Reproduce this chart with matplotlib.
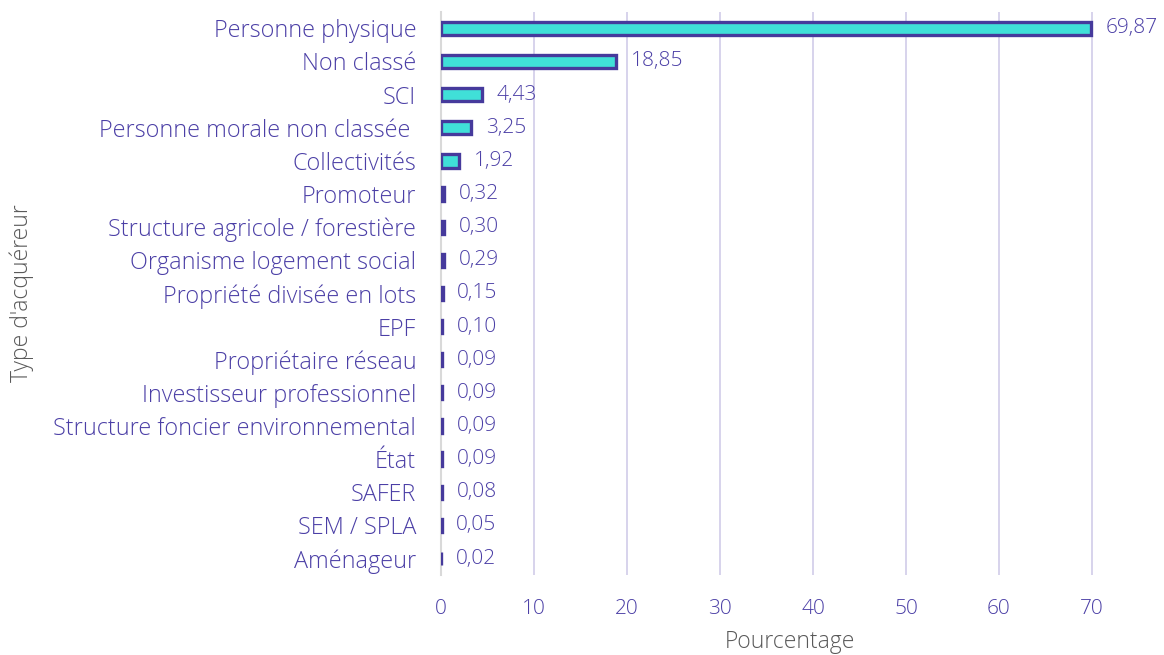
import matplotlib
matplotlib.use("Agg")
import matplotlib.pyplot as plt

categories = ["Personne physique", "Non classé", "SCI", "Personne morale non classée ",
              "Collectivités", "Promoteur", "Structure agricole / forestière",
              "Organisme logement social", "Propriété divisée en lots", "EPF",
              "Propriétaire réseau", "Investisseur professionnel",
              "Structure foncier environnemental", "État", "SAFER", "SEM / SPLA", "Aménageur"]
values = [69.87, 18.85, 4.43, 3.25, 1.92, 0.32, 0.30, 0.29, 0.15, 0.10,
          0.09, 0.09, 0.09, 0.09, 0.08, 0.05, 0.02]
value_labels = ["69,87", "18,85", "4,43", "3,25", "1,92", "0,32", "0,30", "0,29", "0,15",
                "0,10", "0,09", "0,09", "0,09", "0,09", "0,08", "0,05", "0,02"]
xticks = [0, 10, 20, 30, 40, 50, 60, 70]

plt.rcParams['font.family'] = ['Open Sans', 'DejaVu Sans']
plt.rcParams['font.weight'] = 'light'
label_col = "#4b3fa6"
gray = "#595959"

fig = plt.figure(figsize=(11.64, 6.55), dpi=100)
ax = fig.add_axes([0.379, 0.122, 0.599, 0.860])

n = len(categories)
ypos = list(range(n))
ax.barh(ypos, values, height=0.4, color="#40e0d8", edgecolor="#463a9c", linewidth=2.4, zorder=3)
for y, v, s in zip(ypos, values, value_labels):
    ax.annotate(s, (v, y), xytext=(10.5, 0), textcoords="offset points", va="center", ha="left",
                fontsize=15, color=label_col, fontweight="light")

ax.set_yticks(ypos)
ax.set_yticklabels(categories, fontsize=16.8, color=label_col, fontweight="light")
ax.set_ylim(n - 0.5, -0.5)
ax.set_xlim(0, 75)
ax.set_xticks(xticks)
ax.set_xticklabels([str(t) for t in xticks], fontsize=15, color=label_col, fontweight="light")
ax.tick_params(axis="both", length=0)
ax.tick_params(axis="x", pad=17)
ax.tick_params(axis="y", pad=18)
ax.grid(axis="x", color="#d4d0ea", linewidth=1.3, zorder=0)
for s in ["top", "right", "bottom"]:
    ax.spines[s].set_visible(False)
ax.spines["left"].set_color("#d9d9d9")
ax.spines["left"].set_linewidth(1.5)
ax.set_xlabel("Pourcentage", fontsize=16.5, color=gray, labelpad=8, fontweight="light")
ax.set_ylabel("Type d'acquéreur", fontsize=16.5, color=gray, labelpad=14, fontweight="light")

fig.savefig("out.png", dpi=100)
